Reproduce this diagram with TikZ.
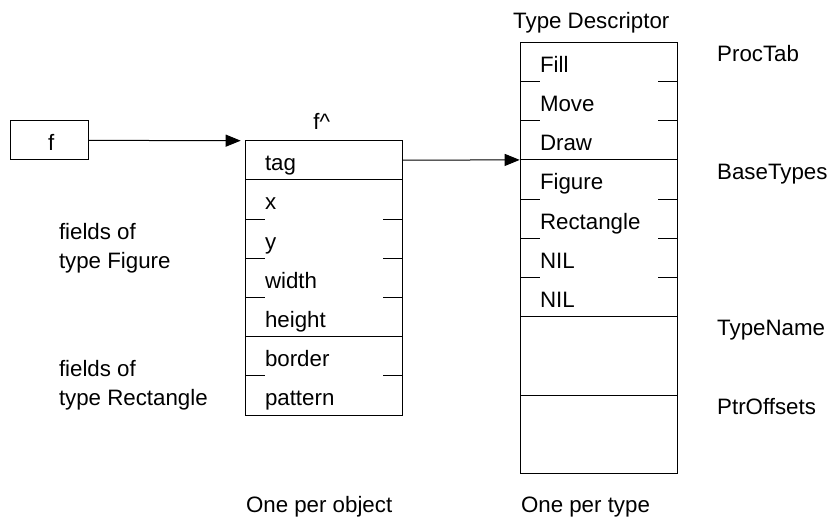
\documentclass[tikz,border=0pt]{standalone}
\usepackage{fontspec}
\setmainfont{Liberation Sans}
\usepackage{tikz}
\usetikzlibrary{positioning,arrows.meta}

\begin{document}
\begin{tikzpicture}[x=1pt,y=-1pt,line width=1pt]
	\def \rowht{39.2pt}
	\def \tickln{19.3}
	\def \objx{324}
	\def \descx{599}
	\tikzstyle{every node}=[font=\fontsize{22.3}{29.5}\selectfont]
	\tikzstyle{field}=[rectangle,inner xsep=19.3pt,inner ysep=0pt,outer sep=0pt,text width=118pt,align=left,minimum height=\rowht,text height=21pt,text depth=0pt]
	\tikzstyle{bigfield}=[field,minimum height=78.4pt]
	\tikzstyle{var}=[rectangle,draw,inner sep=0pt,minimum width=78.3pt,minimum height=39.3pt,text height=21pt,text depth=0pt]
	\tikzstyle{annot}=[anchor=base west,inner sep=0pt]
	\tikzstyle{ptr}=[-{Triangle[length=15pt,width=12pt]}]
	\useasboundingbox (0,0) rectangle (830,518);
	% pointer variable
	\node[var]	(f)	at (49.2,140.3)	{\hspace*{4pt}f};
	% object record
	\node[field]	(tag)	at (\objx,160.3)	{tag};
	\node[field,below=0pt of tag]	(xpos)	{x};
	\node[field,below=0pt of xpos]	(ypos)	{y};
	\node[field,below=0pt of ypos]	(width)	{width};
	\node[field,below=0pt of width]	(height)	{height};
	\node[field,below=0pt of height]	(border)	{border};
	\node[field,below=0pt of border]	(pattern)	{pattern};
	% type descriptor
	\node[field]	(fillp)	at (\descx,61.9)	{Fill};
	\node[field,below=0pt of fillp]	(movep)	{Move};
	\node[field,below=0pt of movep]	(drawp)	{Draw};
	\node[field,below=0pt of drawp]	(figbase)	{Figure};
	\node[field,below=0pt of figbase]	(rectbase)	{Rectangle};
	\node[field,below=0pt of rectbase]	(nilone)	{NIL};
	\node[field,below=0pt of nilone]	(niltwo)	{NIL};
	\node[bigfield,below=0pt of niltwo]	(tname)	{};
	\node[bigfield,below=0pt of tname]	(ptroffs)	{};
	% record outlines
	\draw (tag.north west) rectangle (pattern.south east);
	\draw (tag.south west) -- (tag.south east);
	\draw (height.south west) -- (height.south east);
	\draw (xpos.south west) -- +(\tickln,0)	(xpos.south east) -- +(-\tickln,0);
	\draw (ypos.south west) -- +(\tickln,0)	(ypos.south east) -- +(-\tickln,0);
	\draw (width.south west) -- +(\tickln,0)	(width.south east) -- +(-\tickln,0);
	\draw (border.south west) -- +(\tickln,0)	(border.south east) -- +(-\tickln,0);
	\draw (fillp.north west) rectangle (ptroffs.south east);
	\draw (drawp.south west) -- (drawp.south east);
	\draw (niltwo.south west) -- (niltwo.south east);
	\draw (tname.south west) -- (tname.south east);
	\draw (fillp.south west) -- +(\tickln,0)	(fillp.south east) -- +(-\tickln,0);
	\draw (movep.south west) -- +(\tickln,0)	(movep.south east) -- +(-\tickln,0);
	\draw (figbase.south west) -- +(\tickln,0)	(figbase.south east) -- +(-\tickln,0);
	\draw (rectbase.south west) -- +(\tickln,0)	(rectbase.south east) -- +(-\tickln,0);
	\draw (nilone.south west) -- +(\tickln,0)	(nilone.south east) -- +(-\tickln,0);
	% labels
	\node[anchor=base,inner sep=0pt]	(deref)	at (321.7,129.3)	{f\textasciicircum};
	\node[annot]	(tdlabel)	at (512.7,28.5)	{Type Descriptor};
	\node[annot]	(proctab)	at (716.7,61.8)	{ProcTab};
	\node[annot]	(basetypes)	at (716.7,179.8)	{BaseTypes};
	\node[annot]	(typename)	at (716.7,335.5)	{TypeName};
	\node[annot]	(ptroffsets)	at (716.7,414.8)	{PtrOffsets};
	\node[annot,align=left]	(figfields)	at (58.5,269)	{fields of\\type Figure};
	\node[annot,align=left]	(rectfields)	at (58.5,406)	{fields of\\type Rectangle};
	\node[annot]	(perobj)	at (245.5,512)	{One per object};
	\node[annot]	(pertype)	at (520.5,512)	{One per type};
	% pointers
	\path	(f)	edge[ptr,shorten >=5pt]	(tag.north west)
		(tag)	edge[ptr,shorten >=1pt]	(figbase.north west);
\end{tikzpicture}
\end{document}
